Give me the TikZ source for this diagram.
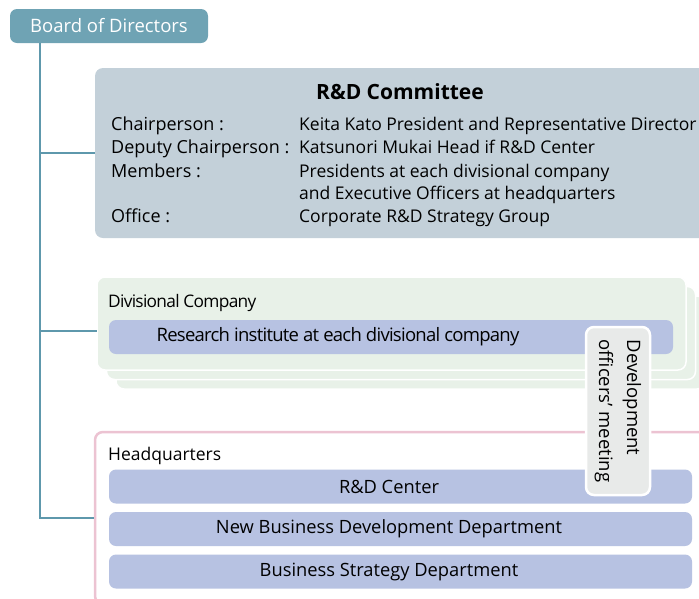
\documentclass[tikz,border=0pt]{standalone}
\usepackage{fontspec}
\setmainfont{Open Sans}
\newfontfamily\narrowfont[LetterSpace=-4]{Open Sans}
\usetikzlibrary{positioning}

\definecolor{boardteal}{HTML}{6FA3B4}
\definecolor{trunkteal}{HTML}{5E98AC}
\definecolor{committeegray}{HTML}{C3D0D9}
\definecolor{divgreen}{HTML}{E8F1E8}
\definecolor{barblue}{HTML}{B7C2E2}
\definecolor{hqpink}{HTML}{ECC3D2}
\definecolor{meetgray}{HTML}{E8EAE9}

\begin{document}
\begin{tikzpicture}[x=1pt, y=-1pt,
        board/.style = {rectangle, rounded corners=7pt, fill=boardteal,
            text=white, font=\fontsize{18.5}{21}\selectfont,
            minimum width=198pt, minimum height=34pt},
        panel/.style = {rectangle, rounded corners=8pt, inner sep=0pt},
        stackbox/.style = {panel, fill=divgreen, draw=white, line width=1.5pt,
            minimum width=589pt, minimum height=93pt},
        bar/.style = {rectangle, rounded corners=7pt, fill=barblue,
            inner sep=0pt, minimum height=34pt},
        bartext/.style = {inner sep=0pt, font=\fontsize{18.3}{21}\selectfont},
        entry/.style = {anchor=base west, inner sep=0pt,
            font=\fontsize{17.5}{20}\selectfont},
        link/.style = {trunkteal, line width=1.6pt}]

        % Frame
        \useasboundingbox (0,0) rectangle (699,598);
        \clip (0,0) rectangle (699,598);

        % Board of Directors
        \node[board] (board) at (109,26) {Board of Directors};

        % R&D Committee
        \node[panel, fill=committeegray, minimum width=617pt,
            minimum height=170pt] (committee) at (403.5,153) {};
        \node[anchor=base, inner sep=0pt,
            font=\fontsize{21}{24}\selectfont\bfseries]
            (comtitle) at (400,99) {R\&D Committee};
        \node[entry, font=\fontsize{18}{20}\selectfont] (chairlbl) at (111,130) {Chairperson :};
        \node[entry, font=\fontsize{18}{20}\selectfont] (deputylbl) at (111,153) {Deputy Chairperson :};
        \node[entry, font=\fontsize{18}{20}\selectfont] (memberlbl) at (111,177) {Members :};
        \node[entry, font=\fontsize{18}{20}\selectfont] (officelbl) at (111,222) {Office :};
        \node[entry] (chairval) at (299,130) {Keita Kato President and Representative Director};
        \node[entry] (deputyval) at (299,153) {Katsunori Mukai Head if R\&D Center};
        \node[entry] (memberval) at (299,177) {Presidents at each divisional company};
        \node[entry] (memberval2) at (299,199) {and Executive Officers at headquarters};
        \node[entry] (officeval) at (299,222) {Corporate R\&D Strategy Group};

        % Divisional Company (stacked)
        \node[stackbox] (divback) at (410.5,342.5) {};
        \node[stackbox] (divmid) at (401,333) {};
        \node[stackbox] (divfront) at (391.5,323.5) {};
        \node[anchor=base west, inner sep=0pt,
            font=\fontsize{17.3}{20}\selectfont\narrowfont]
            (divlabel) at (108,307) {Divisional Company};
        \node[bar, minimum width=564pt] (institute) at (391,337) {};
        \node[bartext, font=\fontsize{18.5}{21}\selectfont\narrowfont]
            (institutetext) at (338,337) {Research institute at each divisional company};

        % Headquarters
        \node[panel, draw=hqpink, line width=2.5pt, fill=white,
            minimum width=617pt, minimum height=172pt] (hq) at (403.5,518) {};
        \node[anchor=base west, inner sep=0pt,
            font=\fontsize{17.5}{20}\selectfont] (hqlabel) at (108,460) {Headquarters};
        \node[bar, minimum width=583pt] (rdcenter) at (400.5,486.5) {};
        \node[bar, minimum width=583pt] (newbiz) at (400.5,529) {};
        \node[bar, minimum width=583pt] (strategy) at (400.5,571.5) {};
        \node[bartext] (rdcentertext) at (389,486.5) {R\&D Center};
        \node[bartext] (newbiztext) at (389,529) {New Business Development Department};
        \node[bartext] (strategytext) at (389,571.5) {Business Strategy Department};

        % Development officers' meeting
        \node[rectangle, rounded corners=8pt, fill=meetgray, draw=white,
            line width=2.5pt, rotate=-90, minimum width=168pt,
            minimum height=64pt, align=left, inner sep=2pt,
            font=\fontsize{18.5}{28}\selectfont]
            (meeting) at (618,411) {Development\\officers’ meeting};

        % Connectors
        \coordinate (spine) at (40,518);
        \coordinate (divjoin) at (97,331);
        \draw[link] (spine |- board.south) -- (spine) -- (hq.west);
        \draw[link] (spine |- committee.west) -- (committee.west);
        \draw[link] (spine |- divjoin) -- (divjoin);
    \end{tikzpicture}
\end{document}
